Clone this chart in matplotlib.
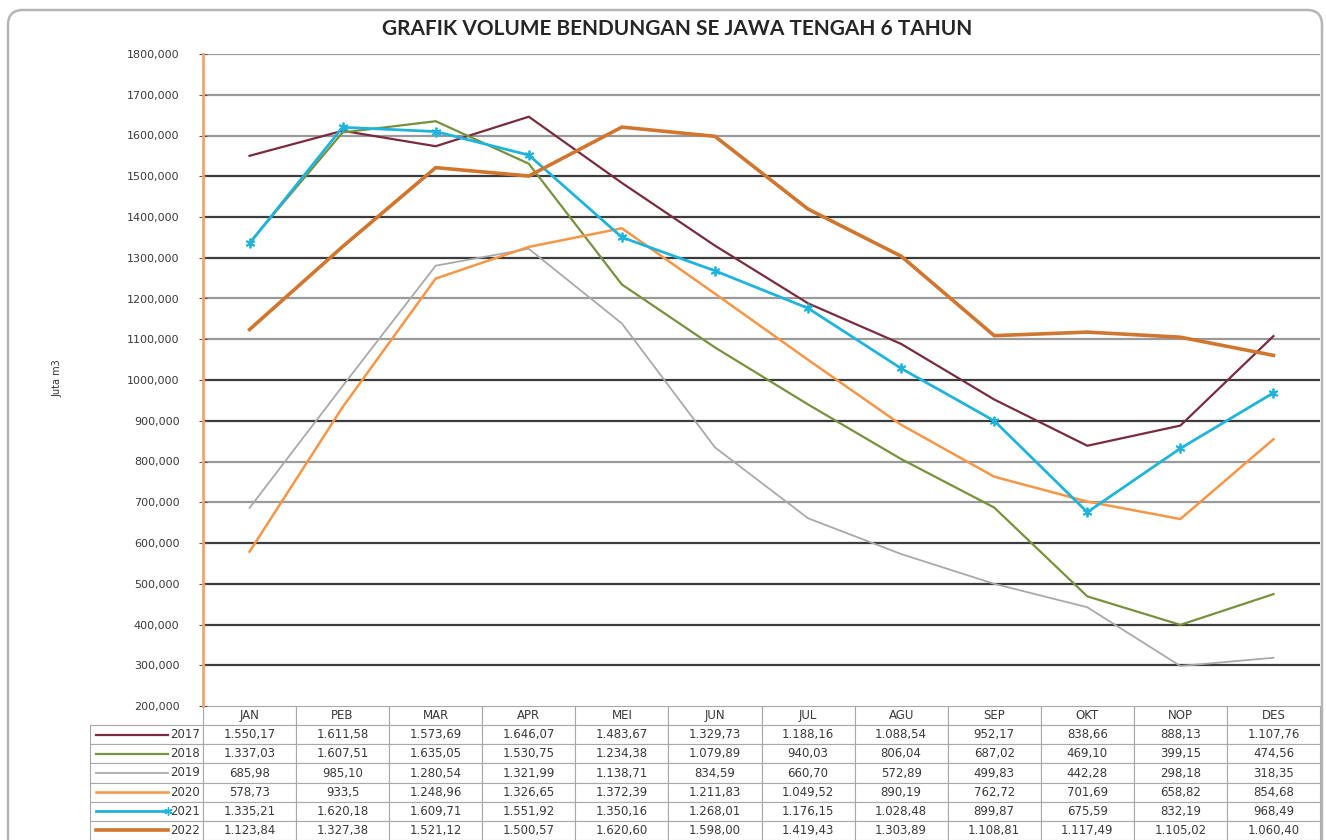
import matplotlib
matplotlib.use("Agg")
import matplotlib.pyplot as plt
from matplotlib.lines import Line2D
from matplotlib.patches import FancyBboxPatch

# ---------------- data ----------------
MONTHS = ["JAN", "PEB", "MAR", "APR", "MEI", "JUN", "JUL", "AGU", "SEP", "OKT", "NOP", "DES"]
YEARS = ["2017", "2018", "2019", "2020", "2021", "2022"]

V2017 = ["1.550,17", "1.611,58", "1.573,69", "1.646,07", "1.483,67", "1.329,73",
         "1.188,16", "1.088,54", "952,17", "838,66", "888,13", "1.107,76"]
V2018 = ["1.337,03", "1.607,51", "1.635,05", "1.530,75", "1.234,38", "1.079,89",
         "940,03", "806,04", "687,02", "469,10", "399,15", "474,56"]
V2019 = ["685,98", "985,10", "1.280,54", "1.321,99", "1.138,71", "834,59",
         "660,70", "572,89", "499,83", "442,28", "298,18", "318,35"]
V2020 = ["578,73", "933,5", "1.248,96", "1.326,65", "1.372,39", "1.211,83",
         "1.049,52", "890,19", "762,72", "701,69", "658,82", "854,68"]
V2021 = ["1.335,21", "1.620,18", "1.609,71", "1.551,92", "1.350,16", "1.268,01",
         "1.176,15", "1.028,48", "899,87", "675,59", "832,19", "968,49"]
V2022 = ["1.123,84", "1.327,38", "1.521,12", "1.500,57", "1.620,60", "1.598,00",
         "1.419,43", "1.303,89", "1.108,81", "1.117,49", "1.105,02", "1.060,40"]

Y_TICKS = list(range(200, 1801, 100))
TITLE = "GRAFIK VOLUME BENDUNGAN SE JAWA TENGAH 6 TAHUN"
Y_LABEL = "Juta m3"

# ---------------- styles ----------------
SERIES = [V2017, V2018, V2019, V2020, V2021, V2022]
COLORS = ["#7A2B3E", "#76923C", "#A9A9A9", "#F79646", "#1FB4DE", "#D0762F"]
WIDTHS = [1.6, 1.6, 1.3, 1.8, 2.0, 2.6]
MARKERS = [None, None, None, None, (6, 2, 0), None]
GRID_DARK = {300, 400, 500, 600, 900, 1000, 1300, 1400, 1500}


def parse(s):
    return float(s.replace(".", "").replace(",", "."))


W, H = 1326, 840
fig = plt.figure(figsize=(W / 100, H / 100), dpi=100)
fig.patch.set_facecolor("white")


def rect(x0, y0, x1, y1):
    return [x0 / W, 1 - y1 / H, (x1 - x0) / W, (y1 - y0) / H]


AX_L, AX_T, AX_R, AX_B = 203, 54, 1320, 706
TB_L, TB_B = 90, 840
ax = fig.add_axes(rect(AX_L, AX_T, AX_R, AX_B))

xs = list(range(len(MONTHS)))
for vals, col, lw, mk in zip(SERIES, COLORS, WIDTHS, MARKERS):
    ys = [parse(v) for v in vals]
    ax.plot(xs, ys, color=col, lw=lw, marker=mk, markersize=7,
            markeredgewidth=1.3, zorder=3, solid_joinstyle="miter")

ax.set_xlim(-0.5, len(MONTHS) - 0.5)
ax.set_ylim(Y_TICKS[0], Y_TICKS[-1])
for v in Y_TICKS[1:]:
    ax.axhline(v, color="#3c3c3c" if v in GRID_DARK else "#9a9a9a",
               lw=1.6, zorder=1)

ax.set_yticks(Y_TICKS)
ax.set_yticklabels([f"{v},000" for v in Y_TICKS], fontsize=8, color="#3a3a3a")
ax.tick_params(axis="y", direction="inout", length=6, width=0.8,
               color="#555555", pad=14)
ax.set_xticks([])
for s in ["top", "right", "bottom"]:
    ax.spines[s].set_visible(False)
ax.spines["left"].set_color("#F4A46A")
ax.spines["left"].set_linewidth(2)

fig.text(57 / W, 1 - 378 / H, Y_LABEL, rotation=90, fontsize=7,
         ha="center", va="center", color="#333333")
fig.text(677 / W, 1 - 29 / H, TITLE, fontsize=15, fontweight="bold",
         family="Lato", ha="center", va="center", color="#262626")

# ---------------- data table ----------------
cell_text = [[""] + MONTHS] + [[y] + vals for y, vals in zip(YEARS, SERIES)]
ax_w = AX_R - AX_L
ax_h = AX_B - AX_T
tb_h = (TB_B - AX_B) / ax_h
tbl = ax.table(cellText=cell_text, cellLoc="center",
               bbox=[(TB_L - AX_L) / ax_w, -tb_h, (AX_R - TB_L) / ax_w, tb_h])
tbl.auto_set_font_size(False)
tbl.set_fontsize(8.5)
first_w = AX_L - TB_L
col_w = ax_w / len(MONTHS)
for (r, c), cell in tbl.get_celld().items():
    cell.set_edgecolor("#A8A8A8")
    cell.set_linewidth(0.8)
    cell.set_width(first_w if c == 0 else col_w)
    cell.get_text().set_color("#3a3a3a")
    if c == 0:
        cell._loc = "right"
        cell.PAD = 0.03
        cell.get_text().set_horizontalalignment("right")
    if r == 0 and c == 0:
        cell.visible_edges = ""

row_h = (TB_B - AX_B) / len(cell_text)
for i, (col, lw, mk) in enumerate(zip(COLORS, WIDTHS, MARKERS)):
    yc = AX_B + row_h * (i + 1.5)
    fig.add_artist(Line2D([96 / W, 168 / W], [1 - yc / H] * 2, color=col,
                          lw=lw, marker=mk, markevery=[1] if mk else None,
                          markersize=6))

# ---------------- outer rounded frame ----------------
frame = FancyBboxPatch((0.08, -0.3), 13.14, 8.6,
                       boxstyle="round,pad=0,rounding_size=0.15",
                       transform=fig.dpi_scale_trans, fill=False,
                       edgecolor="#B5B5B5", lw=1.8, clip_on=False)
fig.add_artist(frame)

fig.savefig("out.png", dpi=100)
